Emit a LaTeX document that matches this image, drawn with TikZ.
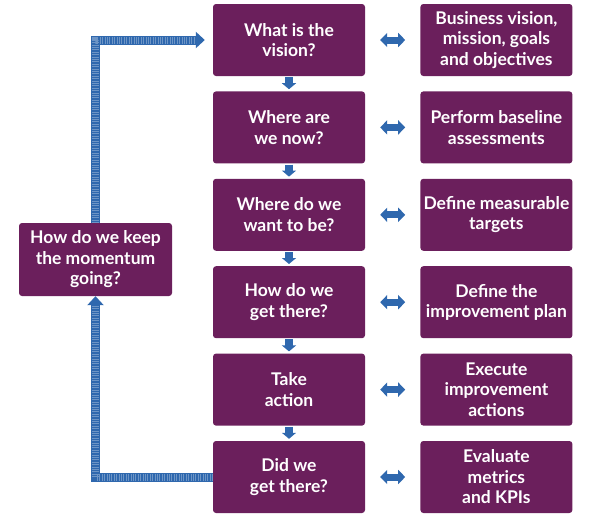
\documentclass[tikz,border=0pt]{standalone}
\usepackage{fontspec}
\setmainfont{Lato}
\usetikzlibrary{arrows.meta,positioning}
\definecolor{plum}{HTML}{6B1F5C}
\definecolor{flowblue}{HTML}{2F68AE}

\begin{document}
\begin{tikzpicture}[
  x=1pt, y=-1pt,
  node distance=15pt and 55pt,
  stage/.style={fill=plum, rounded corners=3pt, align=center, text=white,
    font=\bfseries\fontsize{17.5}{20.5}\selectfont, minimum height=72pt,
    minimum width=152pt, inner sep=1pt},
  stripes/.style={postaction={draw=white, -, line width=7pt, shorten >=#1,
    dash pattern=on 0.6pt off 1.8pt, draw opacity=0.3}},
  stepdown/.style={-{Triangle[width=14pt, length=6pt]}, line width=8pt, draw=flowblue,
    shorten <=1pt, shorten >=2pt},
  link/.style={{Triangle[width=14pt, length=7pt]}-{Triangle[width=14pt, length=7pt]},
    line width=7pt, draw=flowblue, shorten <=15pt, shorten >=15pt},
  loop/.style={line width=9pt, draw=flowblue}
]
\useasboundingbox (0,0) rectangle (600,520);
% middle column: the questions
\node[stage] (q1) at (289,40) {What is the\\vision?};
\node[stage, below=of q1] (q2) {Where are\\we now?};
\node[stage, below=of q2] (q3) {Where do we\\want to be?};
\node[stage, below=of q3] (q4) {How do we\\get there?};
\node[stage, below=of q4] (q5) {Take\\action};
\node[stage, below=of q5] (q6) {Did we\\get there?};
% right column: the answers
\node[stage, right=of q1] (a1) {Business vision,\\mission, goals\\and objectives};
\node[stage, right=of q2] (a2) {Perform baseline\\assessments};
\node[stage, right=of q3] (a3) {Define measurable\\targets};
\node[stage, right=of q4] (a4) {Define the\\improvement plan};
\node[stage, right=of q5] (a5) {Execute\\improvement\\actions};
\node[stage, right=of q6] (a6) {Evaluate\\metrics\\and KPIs};
% left: keep going
\node[stage, minimum width=153pt, minimum height=73pt] (keep) at (95.5,259.5)
  {How do we keep\\the momentum\\going?};

\foreach \i/\j in {1/2,2/3,3/4,4/5,5/6}
  \draw[stepdown] (q\i) -- (q\j);
\foreach \i in {1,...,6}
  \draw[link] (q\i) -- (a\i);

\draw[loop, -{Triangle[width=16pt, length=9pt]}, stripes=9pt] (q6.west) -| (keep.south);
\draw[loop, -{Triangle[width=16pt, length=9pt]}, shorten >=8pt, stripes=17pt]
  (keep.north) |- (q1.west);
\end{tikzpicture}
\end{document}
